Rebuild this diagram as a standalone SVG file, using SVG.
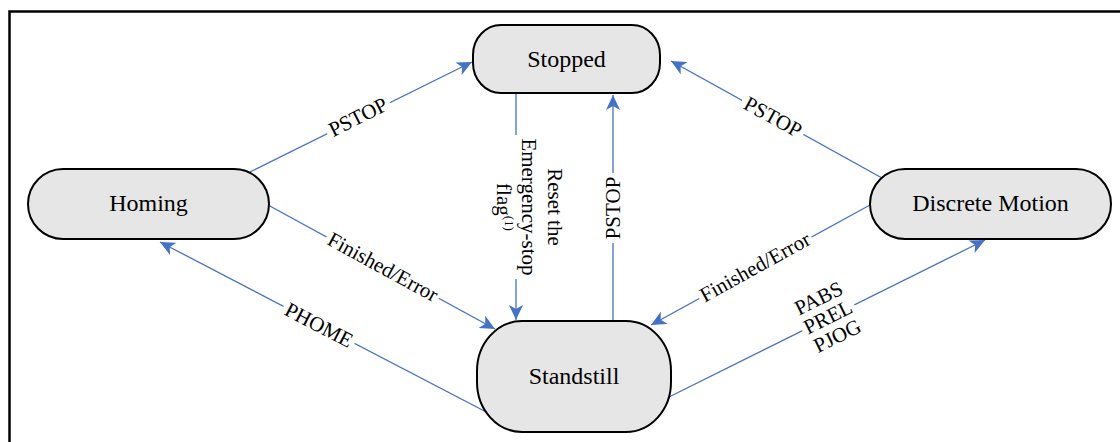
<svg xmlns="http://www.w3.org/2000/svg" width="1120" height="442" viewBox="0 0 1120 442">
<style>
.node{fill:#E6E6E6;stroke:#000;stroke-width:2}
.nt{font-family:"Liberation Serif","Times New Roman",serif;font-size:24px;fill:#000;text-anchor:middle}
.lt{font-family:"Liberation Serif","Times New Roman",serif;font-size:21px;fill:#000;text-anchor:middle}
.edge{stroke:#4472C4;stroke-width:1.3;fill:none}
.bg{fill:#fff}
</style>
<defs>
<marker id="arr" markerUnits="userSpaceOnUse" markerWidth="16" markerHeight="14" refX="15" refY="7" orient="auto" viewBox="0 0 16 14">
<path d="M0,0 L15,7 L0,14 L4,7 Z" fill="#4472C4"/>
</marker>
</defs>
<rect width="1120" height="442" fill="#fff"/>
<path d="M9.5,442 V11.5 H1120" fill="none" stroke="#000" stroke-width="2.5"/>

<g id="connectors">
<line class="edge" x1="250" y1="172" x2="472" y2="62" marker-end="url(#arr)"/>
<line class="edge" x1="882" y1="178" x2="671" y2="61" marker-end="url(#arr)"/>
<line class="edge" x1="516" y1="93" x2="516" y2="320" marker-end="url(#arr)"/>
<line class="edge" x1="613" y1="321" x2="613" y2="95" marker-end="url(#arr)"/>
<line class="edge" x1="268" y1="205" x2="495" y2="329" marker-end="url(#arr)"/>
<line class="edge" x1="870" y1="205" x2="651" y2="325" marker-end="url(#arr)"/>
<line class="edge" x1="492" y1="415" x2="160" y2="242" marker-end="url(#arr)"/>
<line class="edge" x1="667" y1="398" x2="985" y2="240" marker-end="url(#arr)"/>

<g id="lbl-pstop-left" transform="translate(358,117) rotate(-26.8)">
<rect class="bg" x="-35" y="-11" width="70" height="22"/>
<text class="lt" x="0" y="7">PSTOP</text>
</g>
<g id="lbl-pstop-right" transform="translate(773,117) rotate(28.7)">
<rect class="bg" x="-35" y="-11" width="70" height="22"/>
<text class="lt" x="0" y="7">PSTOP</text>
</g>
<g id="lbl-fe-left" transform="translate(383,267) rotate(28.6)">
<rect class="bg" x="-64" y="-11" width="128" height="22"/>
<text class="lt" x="0" y="7">Finished/Error</text>
</g>
<g id="lbl-fe-right" transform="translate(755,267) rotate(-28.8)">
<rect class="bg" x="-64" y="-11" width="128" height="22"/>
<text class="lt" x="0" y="7">Finished/Error</text>
</g>
<g id="lbl-phome" transform="translate(319,325) rotate(27.5)">
<rect class="bg" x="-40" y="-11" width="80" height="22"/>
<text class="lt" x="0" y="7">PHOME</text>
</g>
<g id="lbl-pabs" transform="translate(828,317) rotate(-26.4)">
<rect class="bg" x="-29" y="-11" width="58" height="22"/>
<text class="lt" x="0" y="-14">PABS</text>
<text class="lt" x="0" y="7">PREL</text>
<text class="lt" x="0" y="28">PJOG</text>
</g>
<g id="lbl-reset" transform="translate(528,207) rotate(90)">
<rect class="bg" x="-72" y="-40" width="144" height="66"/>
<text class="lt" x="0" y="-20">Reset the</text>
<text class="lt" x="0" y="6">Emergency-stop</text>
<text class="lt" x="0" y="31">flag<tspan font-size="13" dy="-8">(1)</tspan></text>
</g>
<g id="lbl-pstop-mid" transform="translate(613,208) rotate(-90)">
<rect class="bg" x="-35" y="-11" width="70" height="22"/>
<text class="lt" x="0" y="7">PSTOP</text>
</g>
</g>

<g id="node-stopped">
<rect class="node" x="473" y="25" width="187" height="68" rx="28" ry="30"/>
<text class="nt" x="566.5" y="67">Stopped</text>
</g>
<g id="node-homing">
<rect class="node" x="28" y="169" width="241" height="70" rx="35" ry="35"/>
<text class="nt" x="148.5" y="211">Homing</text>
</g>
<g id="node-discrete">
<rect class="node" x="870" y="169" width="241" height="70" rx="35" ry="35"/>
<text class="nt" x="990.5" y="211">Discrete Motion</text>
</g>
<g id="node-standstill">
<rect class="node" x="477" y="321" width="194" height="111" rx="45" ry="50"/>
<text class="nt" x="574" y="384">Standstill</text>
</g>
</svg>
